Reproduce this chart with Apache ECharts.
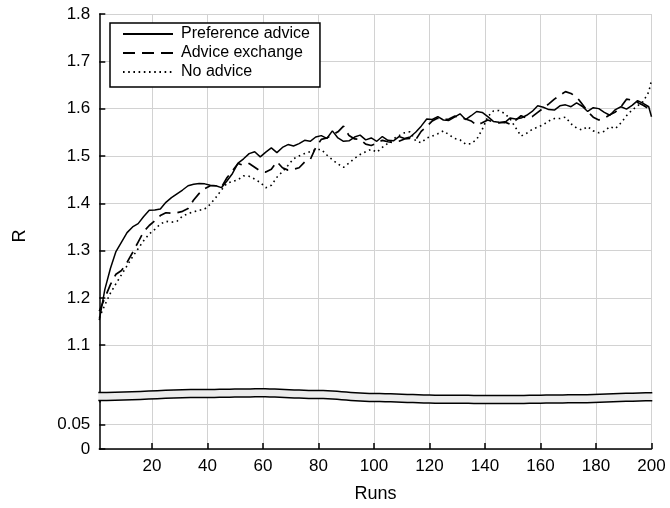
<!DOCTYPE html>
<html><head><meta charset="utf-8">
<script src="https://cdn.jsdelivr.net/npm/echarts@6/dist/echarts.min.js"></script>
<style>html,body{margin:0;padding:0;background:#fff}#c{width:670px;height:508px}</style>
</head><body><div id="c"></div>
<script>
// ---- data ----
const seriesNames = ['Preference advice', 'Advice exchange', 'No advice'];
const runs = [];
for (let r = 1; r < 200; r += 2) runs.push(r);
runs.push(200);

const prefAdvice = [
1.153,1.218,1.262,1.298,1.318,1.338,1.350,1.357,1.372,1.385,
1.386,1.388,1.402,1.412,1.420,1.428,1.437,1.440,1.442,1.441,
1.438,1.437,1.433,1.447,1.463,1.485,1.494,1.505,1.509,1.498,
1.508,1.517,1.507,1.518,1.524,1.521,1.526,1.533,1.531,1.540,
1.543,1.537,1.553,1.538,1.531,1.532,1.540,1.544,1.534,1.538,
1.531,1.541,1.533,1.532,1.541,1.537,1.540,1.550,1.563,1.578,
1.577,1.583,1.576,1.575,1.582,1.589,1.577,1.585,1.594,1.592,
1.583,1.573,1.571,1.570,1.580,1.578,1.580,1.586,1.594,1.606,
1.603,1.598,1.597,1.606,1.608,1.604,1.612,1.605,1.594,1.602,
1.600,1.592,1.586,1.598,1.604,1.599,1.607,1.617,1.611,1.604,
1.583];

const adviceExchange = [
1.172,1.200,1.228,1.250,1.258,1.275,1.296,1.318,1.340,1.353,
1.363,1.374,1.380,1.379,1.380,1.383,1.389,1.407,1.421,1.431,
1.437,1.437,1.434,1.454,1.469,1.484,1.480,1.484,1.476,1.468,
1.466,1.472,1.488,1.475,1.470,1.472,1.475,1.487,1.492,1.518,
1.535,1.538,1.545,1.551,1.563,1.543,1.536,1.535,1.525,1.522,
1.527,1.533,1.530,1.528,1.531,1.536,1.537,1.534,1.552,1.562,
1.574,1.580,1.577,1.578,1.584,1.582,1.578,1.574,1.565,1.570,
1.576,1.572,1.570,1.572,1.567,1.575,1.585,1.580,1.583,1.592,
1.601,1.610,1.620,1.628,1.636,1.632,1.625,1.610,1.594,1.582,
1.576,1.580,1.587,1.593,1.604,1.620,1.618,1.613,1.607,1.600,
1.592];

const noAdvice = [
1.158,1.185,1.210,1.230,1.249,1.268,1.287,1.304,1.321,1.335,
1.345,1.356,1.362,1.360,1.362,1.373,1.378,1.382,1.385,1.388,
1.398,1.412,1.428,1.442,1.446,1.450,1.458,1.457,1.451,1.444,
1.433,1.438,1.455,1.467,1.480,1.494,1.500,1.505,1.509,1.513,
1.514,1.502,1.492,1.483,1.476,1.485,1.495,1.503,1.509,1.514,
1.508,1.518,1.527,1.536,1.543,1.549,1.551,1.532,1.528,1.538,
1.542,1.547,1.553,1.545,1.537,1.534,1.525,1.526,1.535,1.556,
1.583,1.595,1.596,1.590,1.579,1.560,1.542,1.548,1.556,1.561,
1.566,1.574,1.579,1.579,1.582,1.568,1.559,1.555,1.562,1.553,
1.549,1.552,1.562,1.558,1.570,1.585,1.597,1.606,1.615,1.635,
1.660];

const xTicks = [20,40,60,80,100,120,140,160,180,200];
const yTicksUpper = [1.1,1.2,1.3,1.4,1.5,1.6,1.7,1.8];
const yTicksLower = [0,0.05];

// ---- chart ----
const FONT = '"Liberation Sans", Arial, Helvetica, sans-serif';
const GRIDC = '#d2d2d2';
const chart = echarts.init(document.getElementById('c'), null, {renderer:'canvas'});

const pair = vals => runs.map((r,i)=>[r, vals[i]]);

const option = {
  animation: false,
  backgroundColor: '#fff',
  color: ['#000','#000','#000'],
  textStyle: {fontFamily: FONT},
  grid: [
    {left: 99.3, right: 18.5, top: 14, height: 388},
    {left: 99.3, right: 18.5, top: 395, height: 54}
  ],
  xAxis: [
    {gridIndex:0, type:'value', min:1, max:200,
     axisLine:{show:false}, axisTick:{show:false, customValues:xTicks},
     axisLabel:{show:false, customValues:xTicks},
     splitLine:{show:true, lineStyle:{color:GRIDC, width:1}}},
    {gridIndex:1, type:'value', min:1, max:200,
     axisLine:{show:true, onZero:false, lineStyle:{color:'#000', width:1.5}},
     axisTick:{show:true, inside:true, length:6, customValues:xTicks, lineStyle:{color:'#000', width:1.5}},
     axisLabel:{customValues:xTicks, color:'#000', fontSize:17, margin:9, fontFamily:FONT},
     splitLine:{show:true, lineStyle:{color:GRIDC, width:1}},
     name:'Runs', nameLocation:'middle', nameGap:36,
     nameTextStyle:{fontSize:18, color:'#000', fontFamily:FONT}}
  ],
  yAxis: [
    {gridIndex:0, type:'value', min:0.98, max:1.8,
     axisLine:{show:true, onZero:false, lineStyle:{color:'#000', width:1.5}},
     axisTick:{show:true, inside:true, length:6, customValues:yTicksUpper, lineStyle:{color:'#000', width:1.5}},
     axisLabel:{customValues:yTicksUpper, color:'#000', fontSize:17, margin:9, fontFamily:FONT,
                formatter: v => Number(v).toFixed(1)},
     splitLine:{show:true, lineStyle:{color:GRIDC, width:1}}},
    {gridIndex:1, type:'value', min:0, max:0.11,
     axisLine:{show:true, onZero:false, lineStyle:{color:'#000', width:1.5}},
     axisTick:{show:true, inside:true, length:6, customValues:yTicksLower, lineStyle:{color:'#000', width:1.5}},
     axisLabel:{customValues:yTicksLower, color:'#000', fontSize:17, margin:9, fontFamily:FONT,
                formatter: v => String(v)},
     splitLine:{show:true, lineStyle:{color:GRIDC, width:1}}}
  ],
  legend: {
    orient:'vertical', left:110, top:23, itemWidth:50, itemHeight:12, itemGap:3,
    padding:[3,10,7,12], borderColor:'#000', borderWidth:1.5, backgroundColor:'#fff',
    itemStyle:{opacity:0, borderWidth:0},
    textStyle:{fontSize:16, color:'#000', lineHeight:16, fontFamily:FONT, padding:[0,0,0,3]},
    data: seriesNames, selectedMode:false
  },
  series: [
    {type:'line', name:seriesNames[0], xAxisIndex:0, yAxisIndex:0, data:pair(prefAdvice),
     symbol:'none', z:5, itemStyle:{color:'#000'}, lineStyle:{color:'#000', width:1.5, type:'solid'}},
    {type:'line', name:seriesNames[1], xAxisIndex:0, yAxisIndex:0, data:pair(adviceExchange),
     symbol:'none', z:4, itemStyle:{color:'#000'}, lineStyle:{color:'#000', width:1.7, type:[12,7]}},
    {type:'line', name:seriesNames[2], xAxisIndex:0, yAxisIndex:0, data:pair(noAdvice),
     symbol:'none', z:3, itemStyle:{color:'#000'}, lineStyle:{color:'#000', width:1.6, type:[1.6,3.6]}}
  ]
};
chart.setOption(option);

// ---- axis break band (decoration) ----
function drawBreak() {
  const waveRuns = [1, 37, 59, 80, 100, 124, 148, 172, 200];
  const waveOff  = [0, -3, -3.7, -2, 1, 2.7, 3, 2.3, 0.3];
  const thick = 8;
  const base = chart.convertToPixel({gridIndex:0}, [1, 1.0])[1];
  const ctrl = waveRuns.map((r,i)=>[chart.convertToPixel({gridIndex:0}, [r, 1.0])[0], base + waveOff[i]]);
  ctrl[0][0] -= 1; ctrl[ctrl.length-1][0] += 0.8;
  const top = [];
  for (let i = 0; i < ctrl.length - 1; i++) {
    const [x0,y0] = ctrl[i], [x1,y1] = ctrl[i+1];
    for (let k = 0; k < 12; k++) {
      const t = k/12, s = (1 - Math.cos(Math.PI*t))/2;
      top.push([x0 + (x1-x0)*t, y0 + (y1-y0)*s]);
    }
  }
  top.push(ctrl[ctrl.length-1]);
  const bot = top.map(p => [p[0], p[1] + thick]);
  const poly = top.concat(bot.slice().reverse());
  chart.setOption({graphic: [
    {type:'polygon', z:100, shape:{points:poly}, style:{fill:'#ececec', stroke:null}},
    {type:'polyline', z:101, shape:{points:top}, style:{stroke:'#000', lineWidth:1.5, fill:null}},
    {type:'polyline', z:101, shape:{points:bot}, style:{stroke:'#000', lineWidth:1.5, fill:null}},
    {type:'text', z:101, x:20, y:236, rotation:Math.PI/2,
     style:{text:'R', fill:'#000', font:'18px ' + FONT, textAlign:'center', textVerticalAlign:'middle'}}
  ]});
}
drawBreak();
</script>
</body></html>
